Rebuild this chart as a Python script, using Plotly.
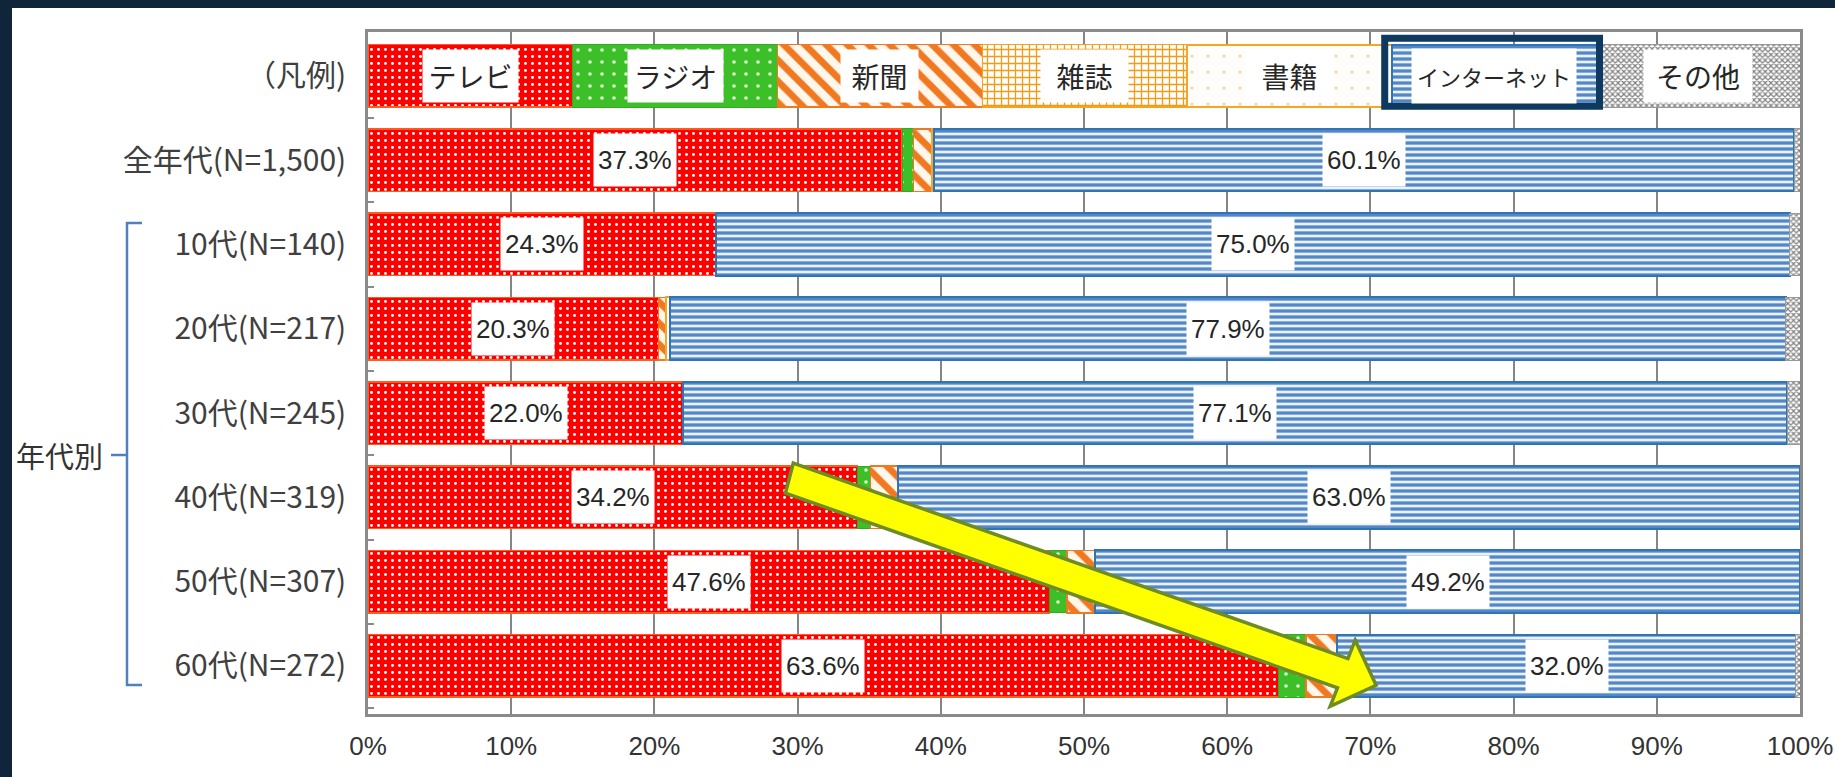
import plotly.graph_objects as go

# ---------------- data ----------------
categories = ["（凡例)", "全年代(N=1,500)", "10代(N=140)", "20代(N=217)", "30代(N=245)",
              "40代(N=319)", "50代(N=307)", "60代(N=272)"]
media = ["テレビ", "ラジオ", "新聞", "雑誌", "書籍", "インターネット", "その他"]
legend_widths = [14.3, 14.3, 14.3, 14.3, 14.3, 14.3, 14.2]

tv       = [37.3, 24.3, 20.3, 22.0, 34.2, 47.6, 63.6]
radio    = [0.8, 0.0, 0.0, 0.0, 0.9, 1.2, 1.9]
news     = [1.3, 0.0, 0.5, 0.0, 1.9, 2.0, 2.2]
magazine = [0.0, 0.0, 0.0, 0.0, 0.0, 0.0, 0.0]
book     = [0.1, 0.0, 0.3, 0.0, 0.0, 0.0, 0.0]
internet = [60.1, 75.0, 77.9, 77.1, 63.0, 49.2, 32.0]
other    = [0.4, 0.7, 1.0, 0.9, 0.0, 0.0, 0.3]

x_ticks = [0, 10, 20, 30, 40, 50, 60, 70, 80, 90, 100]
x_tick_labels = ["0%", "10%", "20%", "30%", "40%", "50%", "60%", "70%", "80%", "90%", "100%"]
group_label = "年代別"

series = [tv, radio, news, magazine, book, internet, other]
labelled = {"テレビ", "インターネット"}

# ---------------- styles ----------------
W, H = 1835, 777
ML, MR, MT, MB = 368, 35, 32, 63
PW = W - ML - MR
PH = H - MT - MB
PLOT_BOTTOM = H - MB

NARROW = "Liberation Sans Narrow, Liberation Sans, Arial, sans-serif"
CJK = "Noto Sans CJK JP, sans-serif"

styles = {
    "テレビ":       dict(bg="#ff0000", fg="#ffffff", shape=".", size=7, sol=0.14, line="#ff5a1f", lw=1.5),
    "ラジオ":       dict(bg="#3cbf29", fg="#dfffd0", shape=".", size=12, sol=0.07, line="#33aa22", lw=1),
    "新聞":         dict(bg="#fff6ec", fg="#f07820", shape="\\", size=15, sol=0.45, line="#f07820", lw=1.5),
    "雑誌":         dict(bg="#ffffff", fg="#f59a12", shape="+", size=7, sol=0.33, line="#f5a21e", lw=1.5),
    "書籍":         dict(bg="#fffdfa", fg="#f6d2ad", shape=".", size=16, sol=0.03, line="#f5a623", lw=2),
    "インターネット": dict(bg="#eaf2fc", fg="#5487c8", shape="-", size=6, sol=0.55, line="#2f75b5", lw=2),
    "その他":       dict(bg="#ffffff", fg="#7f7f7f", shape="x", size=4, sol=0.5, line="#999999", lw=1),
}
legend_box = {  # (width, height) of white label boxes
    "テレビ": (87, 44), "ラジオ": (87, 44), "新聞": (69, 44), "雑誌": (79, 44),
    "書籍": (79, 44), "インターネット": (156, 46), "その他": (100, 44),
}

rows = list(range(len(categories)))

fig = go.Figure()
for i, name in enumerate(media):
    s = styles[name]
    xs = [legend_widths[i]] + [v if v > 0 else None for v in series[i]]
    fig.add_trace(go.Bar(
        x=xs, y=rows, orientation="h", name=name, showlegend=False, hoverinfo="skip",
        marker=dict(color=s["bg"], line=dict(color=s["line"], width=s["lw"]),
                    pattern=dict(shape=s["shape"], fgcolor=s["fg"], bgcolor=s["bg"],
                                 size=s["size"], solidity=s["sol"], fillmode="replace")),
    ))

annotations = []
# legend labels
start = 0.0
for i, name in enumerate(media):
    w = legend_widths[i]
    bw, bh = legend_box[name]
    annotations.append(dict(
        x=start + w / 2, y=0, xref="x", yref="y", text=name, showarrow=False,
        font=dict(family=CJK, size=22 if name == "インターネット" else 28, color="#262626"),
        bgcolor="#ffffff", borderpad=4, width=bw, height=bh))
    start += w

# data labels
for r in range(len(tv)):
    start = 0.0
    for i, name in enumerate(media):
        v = series[i][r]
        if name in labelled:
            annotations.append(dict(
                x=start + v / 2, y=r + 1, xref="x", yref="y", text=f"{v:.1f}%",
                showarrow=False, font=dict(family=NARROW, size=26, color="#262626"),
                bgcolor="#ffffff", borderpad=4, height=44))
        start += v


def px_x(p):
    return (p - ML) / PW


def px_y(p):
    return (PLOT_BOTTOM - p) / PH


annotations.append(dict(
    x=px_x(14), y=px_y(455), xref="paper", yref="paper", text=group_label, showarrow=False,
    font=dict(family=CJK, size=29, color="#333333"), xanchor="left", yanchor="middle"))

shapes = []
# dark background edges
dark = "#10243a"
shapes.append(dict(type="rect", xref="paper", yref="paper", x0=px_x(0), x1=px_x(12),
                   y0=px_y(0), y1=px_y(H), fillcolor=dark, line=dict(width=0), layer="above"))
shapes.append(dict(type="rect", xref="paper", yref="paper", x0=px_x(0), x1=px_x(W),
                   y0=px_y(0), y1=px_y(8), fillcolor=dark, line=dict(width=0), layer="above"))
# bracket
bp = [(142, 223), (127, 223), (127, 685), (142, 685)]
path = "M " + " L ".join(f"{px_x(a)},{px_y(b)}" for a, b in bp)
shapes.append(dict(type="path", xref="paper", yref="paper", path=path,
                   line=dict(color="#4f81bd", width=2.5)))
shapes.append(dict(type="line", xref="paper", yref="paper", x0=px_x(111), x1=px_x(127),
                   y0=px_y(455), y1=px_y(455), line=dict(color="#4f81bd", width=2.5)))
# internet legend highlight frame
shapes.append(dict(type="rect", xref="x", yref="y", x0=71.0, x1=86.0, y0=-0.445, y1=0.362,
                   line=dict(color="#0e3a60", width=7), fillcolor="rgba(0,0,0,0)", layer="above"))
# yellow arrow (x in %, y in row units)
arrow = [(29.70, 4.594), (68.43, 6.913), (68.94, 6.694), (70.40, 7.229),
         (67.19, 7.478), (67.70, 7.259), (29.15, 4.950)]
apath = "M " + " L ".join(f"{a},{b}" for a, b in arrow) + " Z"
shapes.append(dict(type="path", xref="x", yref="y", path=apath, fillcolor="#ffff00",
                   line=dict(color="#6e8b24", width=3.5), layer="above"))

fig.update_layout(
    width=W, height=H, barmode="stack", bargap=0.258,
    margin=dict(l=ML, r=MR, t=MT, b=MB, pad=0, autoexpand=False),
    paper_bgcolor="#ffffff", plot_bgcolor="#ffffff",
    annotations=annotations, shapes=shapes,
    xaxis=dict(range=[0, 100], tickmode="array", tickvals=x_ticks, ticktext=x_tick_labels,
               showgrid=True, gridcolor="#858585", gridwidth=2, zeroline=False,
               showline=True, mirror=True, linecolor="#8a8a8a", linewidth=2.5,
               ticks="", ticklabelstandoff=7, automargin=False,
               tickfont=dict(family=NARROW, size=26, color="#333333")),
    yaxis=dict(range=[7.57, -0.52], tickmode="array", tickvals=rows, ticktext=categories,
               showgrid=False, zeroline=False, showline=True, mirror=True, automargin=False,
               linecolor="#8a8a8a", linewidth=2.5, ticks="", ticklabelstandoff=13,
               tickfont=dict(family=CJK, size=30, color="#404040"),
               minor=dict(tickmode="array", tickvals=[r + 0.5 for r in rows], ticks="inside",
                          ticklen=6, tickwidth=2, tickcolor="#8a8a8a", showgrid=False)),
)

fig.write_html(
    "out.html",
    config={"displayModeBar": False},
    post_script="document.body.style.margin='0';document.body.style.padding='0';"
                "document.documentElement.style.overflow='hidden';",
)
